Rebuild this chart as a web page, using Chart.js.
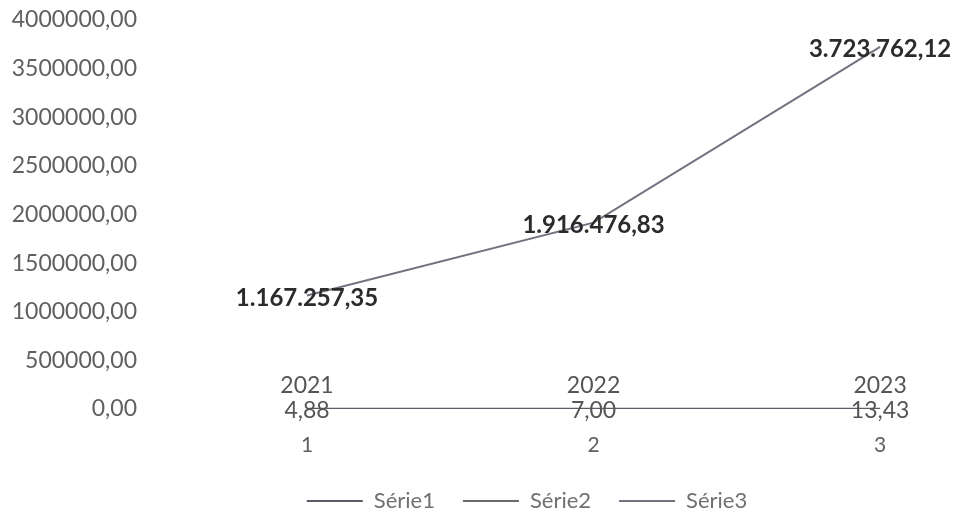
<!DOCTYPE html>
<html>
<head>
<meta charset="utf-8">
<script src="https://cdn.jsdelivr.net/npm/chart.js@4/dist/chart.umd.min.js"></script>
<style>
html,body{margin:0;padding:0;background:#ffffff;}
#wrap{width:960px;height:517px;position:relative;}
</style>
</head>
<body>
<div id="wrap"><canvas id="c" width="960" height="517"></canvas></div>
<script>
const categories = [1, 2, 3];
const serie1 = [2021, 2022, 2023];
const serie2 = [4.88, 7.00, 13.43];
const serie3 = [1167257.35, 1916476.83, 3723762.12];
const seriesNames = ['Série1', 'Série2', 'Série3'];
const yMax = 4000000;
const yStep = 500000;

function fmtBR(v, dec) {
  const parts = v.toFixed(dec).split('.');
  const intPart = parts[0].replace(/\B(?=(\d{3})+(?!\d))/g, '.');
  return dec > 0 ? intPart + ',' + parts[1] : intPart;
}
function fmtTick(v) { return v.toFixed(2).replace('.', ','); }

const FONT = 'Lato, "Open Sans", sans-serif';

const labelPlugin = {
  id: 'pointLabels',
  afterDatasetsDraw(chart) {
    const ctx = chart.ctx;
    const cfgs = [
      { fmt: v => String(v), dy: -23, font: '23px ' + FONT, color: '#555' },
      { fmt: v => fmtBR(v, 2), dy: 2, font: '23px ' + FONT, color: '#555' },
      { fmt: v => fmtBR(v, 2), dy: 2.5, font: 'bold 24px ' + FONT, color: '#2b2b2b' }
    ];
    chart.data.datasets.forEach((ds, i) => {
      const meta = chart.getDatasetMeta(i);
      const c = cfgs[i];
      ctx.save();
      ctx.font = c.font;
      ctx.fillStyle = c.color;
      ctx.textAlign = 'center';
      ctx.textBaseline = 'middle';
      meta.data.forEach((pt, j) => {
        ctx.fillText(c.fmt(ds.data[j].y), pt.x, pt.y + c.dy);
      });
      ctx.restore();
    });
  }
};

const legendShift = {
  id: 'legendShift',
  afterLayout(chart) {
    const lg = chart.legend;
    if (!lg) return;
    lg.left += 49; lg.right += 49;
    lg.top += 5; lg.bottom += 5;
  }
};

const toPts = arr => arr.map((v, i) => ({ x: categories[i], y: v }));

new Chart(document.getElementById('c'), {
  type: 'line',
  data: {
    datasets: [
      { label: seriesNames[0], data: toPts(serie1), borderColor: '#5c5a66', borderWidth: 2, pointRadius: 0, pointStyle: 'line' },
      { label: seriesNames[1], data: toPts(serie2), borderColor: '#6a6a6a', borderWidth: 2, pointRadius: 0, pointStyle: 'line' },
      { label: seriesNames[2], data: toPts(serie3), borderColor: '#75707f', borderWidth: 2, pointRadius: 0, pointStyle: 'line' }
    ]
  },
  options: {
    responsive: false,
    animation: false,
    layout: { autoPadding: false, padding: { left: 6, right: 10, top: 20, bottom: 0 } },
    plugins: {
      legend: {
        position: 'bottom',
        labels: {
          usePointStyle: true,
          pointStyle: 'line',
          pointStyleWidth: 56,
          boxHeight: 2,
          color: '#707070',
          font: { family: FONT, size: 22 },
          padding: 28
        }
      },
      tooltip: { enabled: false }
    },
    scales: {
      x: {
        type: 'linear',
        min: 0.4555,
        max: 3.244,
        grid: { display: false, drawTicks: false },
        border: { display: false },
        afterBuildTicks: axis => { axis.ticks = categories.map(v => ({ value: v })); },
        afterFit: axis => { axis.height = 48; axis.paddingLeft = 0; axis.paddingRight = 0; },
        ticks: {
          color: '#606060',
          font: { family: FONT, size: 21 },
          padding: 24,
          callback: v => String(v)
        }
      },
      y: {
        min: 0,
        max: yMax,
        grid: { display: false, drawTicks: false },
        border: { display: false },
        afterFit: axis => { axis.width = 145; axis.paddingTop = 0; axis.paddingBottom = 0; },
        ticks: {
          stepSize: yStep,
          color: '#606060',
          font: { family: FONT, size: 23 },
          padding: 14,
          callback: v => fmtTick(v)
        }
      }
    }
  },
  plugins: [labelPlugin, legendShift]
});
</script>
</body>
</html>
